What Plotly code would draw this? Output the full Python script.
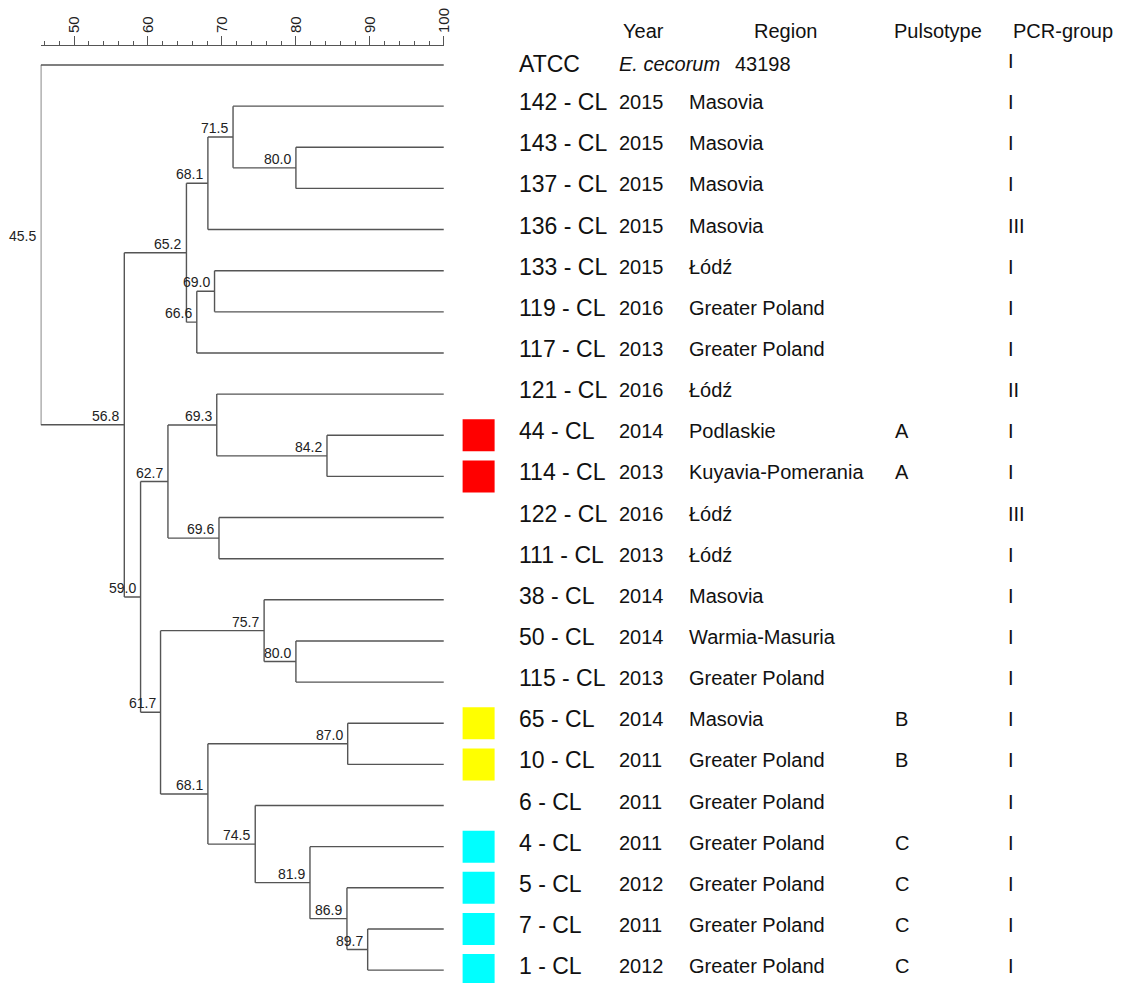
import plotly.graph_objects as go

# ---------------- data ----------------
leaf_names = ["ATCC", "142 - CL", "143 - CL", "137 - CL", "136 - CL", "133 - CL", "119 - CL",
              "117 - CL", "121 - CL", "44 - CL", "114 - CL", "122 - CL", "111 - CL", "38 - CL",
              "50 - CL", "115 - CL", "65 - CL", "10 - CL", "6 - CL", "4 - CL", "5 - CL",
              "7 - CL", "1 - CL"]
years = ["", "2015", "2015", "2015", "2015", "2015", "2016", "2013", "2016", "2014", "2013",
         "2016", "2013", "2014", "2014", "2013", "2014", "2011", "2011", "2011", "2012",
         "2011", "2012"]
regions = ["", "Masovia", "Masovia", "Masovia", "Masovia", "Łódź", "Greater Poland",
           "Greater Poland", "Łódź", "Podlaskie", "Kuyavia-Pomerania", "Łódź", "Łódź",
           "Masovia", "Warmia-Masuria", "Greater Poland", "Masovia", "Greater Poland",
           "Greater Poland", "Greater Poland", "Greater Poland", "Greater Poland",
           "Greater Poland"]
pulsotypes = ["", "", "", "", "", "", "", "", "", "A", "A", "", "", "", "", "", "B", "B", "",
              "C", "C", "C", "C"]
pcr_groups = ["I", "I", "I", "I", "III", "I", "I", "I", "II", "I", "I", "III", "I", "I", "I",
              "I", "I", "I", "I", "I", "I", "I", "I"]
headers = ["Year", "Region", "Pulsotype", "PCR-group"]
atcc_species = "E. cecorum"
atcc_strain = "43198"

# dendrogram: node similarity values and their two children
# (int -> index of another node, str -> leaf name)
node_values = [45.5, 56.8, 65.2, 68.1, 71.5, 80.0, 66.6, 69.0, 59.0, 62.7, 69.3, 84.2, 69.6,
               61.7, 75.7, 80.0, 68.1, 87.0, 74.5, 81.9, 86.9, 89.7]
node_children = [("ATCC", 1), (2, 8), (3, 6), (4, "136 - CL"), ("142 - CL", 5),
                 ("143 - CL", "137 - CL"), (7, "117 - CL"), ("133 - CL", "119 - CL"),
                 (9, 13), (10, 12), ("121 - CL", 11), ("44 - CL", "114 - CL"),
                 ("122 - CL", "111 - CL"), (14, 16), ("38 - CL", 15),
                 ("50 - CL", "115 - CL"), (17, 18), ("65 - CL", "10 - CL"),
                 ("6 - CL", 19), ("4 - CL", 20), ("5 - CL", 21), ("7 - CL", "1 - CL")]
leaf_value = 100.0

pulsotype_colors = {"A": "#FF0000", "B": "#FFFF00", "C": "#00FFFF"}

# ---------------- layout constants ----------------
W, H = 1139, 983
FONT = "Liberation Sans, Arial, sans-serif"
LINE = "#555555"
TXT = "#111111"
row0_px, row_step = 65.0, 41.14
y_top = -row0_px / row_step
y_bot = (H - row0_px) / row_step

# ---------------- compute dendrogram geometry ----------------
row_of = {n: i for i, n in enumerate(leaf_names)}
node_y = {}


def pos(c):
    if isinstance(c, str):
        return leaf_value, row_of[c]
    return node_values[c], get_y(c)


def get_y(k):
    if k not in node_y:
        a, b = node_children[k]
        node_y[k] = (pos(a)[1] + pos(b)[1]) / 2.0
    return node_y[k]


xs, ys = [], []
for k, (a, b) in enumerate(node_children):
    xv = node_values[k]
    xa, ya = pos(a)
    xb, yb = pos(b)
    xs += [xv, xv, None]
    ys += [ya, yb, None]
    xs += [xv, xa, None, xv, xb, None]
    ys += [ya, ya, None, yb, yb, None]

fig = go.Figure()
fig.add_trace(go.Scatter(x=xs, y=ys, mode="lines", line=dict(color=LINE, width=1.4),
                         hoverinfo="skip", showlegend=False, xaxis="x", yaxis="y"))

annotations = []
for k, v in enumerate(node_values):
    annotations.append(dict(x=v, y=get_y(k), xref="x", yref="y", text=f"{v:.1f}",
                            showarrow=False, xanchor="right", yanchor="bottom", xshift=-3,
                            yshift=-1, font=dict(family=FONT, size=14, color="#222222")))

# ---------------- colored pulsotype squares ----------------
sq_x, sq_y, sq_c = [], [], []
for i, p in enumerate(pulsotypes):
    if p in pulsotype_colors:
        sq_x.append(482)
        sq_y.append(i)
        sq_c.append(pulsotype_colors[p])
fig.add_trace(go.Scatter(x=sq_x, y=sq_y, mode="markers",
                         marker=dict(symbol="square", size=32, color=sq_c,
                                     line=dict(width=0)),
                         hoverinfo="skip", showlegend=False, xaxis="x2", yaxis="y"))

# ---------------- table text ----------------
col_name, col_year, col_region, col_puls, col_pcr = 521, 621, 692, 899, 1013
header_x = [625, 757, 898, 1018]
header_y_px = 31


def txt(x, y, s, size, italic=False, yshift=4):
    if italic:
        s = f"<i>{s}</i>"
    annotations.append(dict(x=x, y=y, xref="x2", yref="y", text=s, showarrow=False,
                            xanchor="left", yanchor="middle", yshift=yshift,
                            font=dict(family=FONT, size=size, color=TXT)))


for hx, h in zip(header_x, headers):
    txt(hx, (header_y_px - row0_px) / row_step, h, 20, yshift=0)

for i, n in enumerate(leaf_names):
    txt(col_name, i, n, 23, yshift=1 if i == 0 else 4)
    if years[i]:
        txt(col_year, i, years[i], 20)
    if regions[i]:
        txt(col_region, i, regions[i], 20)
    if pulsotypes[i]:
        txt(col_puls, i, pulsotypes[i], 20)
    txt(col_pcr, i, pcr_groups[i], 20)

txt(col_year, 0, atcc_species, 20, italic=True, yshift=1)
txt(738, 0, atcc_strain, 20, yshift=1)

fig.update_layout(
    width=W, height=H, autosize=False,
    margin=dict(l=0, r=0, t=0, b=0),
    paper_bgcolor="white", plot_bgcolor="rgba(0,0,0,0)",
    showlegend=False,
    annotations=annotations,
    xaxis=dict(domain=[41 / W, 447 / W], range=[45.5, 100], side="top",
               anchor="free", position=1 - 45 / H, showgrid=False, zeroline=False,
               showline=True, linecolor="#555555", linewidth=1, ticks="outside", ticklen=9,
               tickwidth=1, tickcolor="#555555", tick0=50, dtick=10, tickangle=-90,
               tickfont=dict(family=FONT, size=15, color="#222222"),
               minor=dict(ticks="outside", ticklen=4, tick0=46, dtick=2,
                          tickcolor="#555555", tickwidth=1, showgrid=False)),
    xaxis2=dict(domain=[0, 1], range=[0, W], anchor="y", visible=False, showgrid=False),
    yaxis=dict(domain=[0, 1], range=[y_bot, y_top], visible=False, showgrid=False,
               zeroline=False),
)

fig.write_html("out.html",
               config={"displayModeBar": False},
               post_script="document.body.style.margin='0';"
                           "document.body.style.overflow='hidden';")
